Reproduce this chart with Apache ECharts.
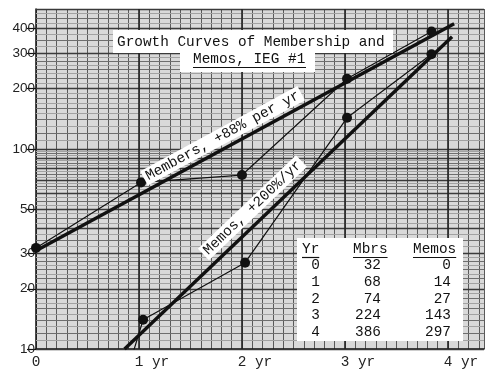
<!DOCTYPE html>
<html><head><meta charset="utf-8">
<script src="https://cdn.jsdelivr.net/npm/echarts@6/dist/echarts.min.js"></script>
<style>html,body{margin:0;padding:0;background:#fff}#c{width:500px;height:382px}</style>
</head><body><div id="c"></div>
<script>
// ---- data ----
const years = [0, 1, 2, 3, 4];
const members = [32, 68, 74, 224, 386];
const memos = [0, 14, 27, 143, 297];
// x positions where the points were actually plotted (yr)
const membersX = [0, 1.02, 2.0, 3.02, 3.84];
const memosX = [0, 1.04, 2.03, 3.02, 3.84];
// memos at yr 0 is 0 (off a log scale); the hand-drawn line heads below the axis toward it
const memosLead = [0.88, 7.5];
// fitted growth lines (end points)
const membersFit = [[0, 31], [4.06, 422]];
const memosFit = [[0.86, 10], [4.04, 363]];
const yTickLabels = [10, 20, 30, 50, 100, 200, 300, 400];
const xTickLabels = [0, 1, 2, 3, 4];
const titleLines = ['Growth Curves of Membership and', 'Memos, IEG #1'];
const membersLabel = 'Members, +88% per yr';
const memosLabel = 'Memos, +200%/yr';
const tableHeader = ['Yr', 'Mbrs', 'Memos'];
// log graph paper rulings
const paperMajor = [10,20,30,40,50,60,70,80,90,100,200,300,400,500];
const paperMinor = [12,14,16,18,22.5,25,27.5,35,45,55,65,75,85,95,120,140,160,180,225,250,275,350,450];
const paperFine = [11,13,15,17,19,21.25,23.75,26.25,28.75,32.5,37.5,42.5,47.5,52.5,57.5,62.5,67.5,72.5,77.5,82.5,87.5,92.5,97.5,
  110,130,150,170,190,212.5,237.5,262.5,287.5,325,375,425,475];

const MONO = '"Liberation Mono", "DejaVu Sans Mono", monospace';
const ink = '#111';

const chart = echarts.init(document.getElementById('c'), null, {renderer: 'canvas'});

function hLines(vals) { return vals.map(v => ({yAxis: v})); }
function vLines(vals) { return vals.map(v => ({xAxis: v})); }
function ruling(vals, color, width, vertical) {
  return { type: 'line', data: [], z: 1, silent: true,
    markLine: {z: 1, silent: true, symbol: ['none', 'none'], label: {show: false}, animation: false,
      lineStyle: {color: color, width: width, type: 'solid'}, data: vertical ? vLines(vals) : hLines(vals)} };
}

const option = {
  animation: false,
  backgroundColor: '#fff',
  grid: {left: 36, right: 16, top: 9, bottom: 33, show: true, backgroundColor: '#d9d9d9', borderWidth: 0},
  xAxis: {
    type: 'value', min: 0, max: 4.35, interval: 0.1,
    axisLine: {show: true, lineStyle: {color: ink, width: 1.5}},
    axisTick: {show: false},
    splitLine: {show: true, lineStyle: {color: '#5a5a5a', width: 1}},
    axisLabel: {
      customValues: xTickLabels,
      fontFamily: MONO, fontSize: 14.4, color: '#222', margin: 6,
      formatter: v => (v === 0 ? '0' : '   ' + v + ' yr')
    }
  },
  yAxis: {
    type: 'log', logBase: 10, min: 10, max: 500,
    axisLine: {show: true, lineStyle: {color: ink, width: 1.5}},
    axisTick: {show: true, customValues: yTickLabels, length: 9, lineStyle: {color: ink, width: 1.2}},
    splitLine: {show: false},
    axisLabel: {customValues: yTickLabels, fontFamily: '"Liberation Sans", Arial, sans-serif', fontSize: 13.5, color: '#222', margin: 1}
  },
  series: [
    ruling(paperFine, '#a2a2a2', 1, false),
    ruling(paperMinor, '#6e6e6e', 1, false),
    ruling(paperMajor, '#3a3a3a', 1.3, false),
    ruling(years.slice(1), '#222', 1.6, true),
    { name: 'Members fit', type: 'line', z: 6, symbol: 'none', silent: true,
      lineStyle: {color: ink, width: 3.4}, data: membersFit },
    { name: 'Memos fit', type: 'line', z: 6, symbol: 'none', silent: true,
      lineStyle: {color: ink, width: 3.4}, data: memosFit },
    { name: 'Members', type: 'line', z: 7, symbol: 'circle', symbolSize: 10,
      itemStyle: {color: ink}, lineStyle: {color: ink, width: 1.2},
      data: membersX.map((x, i) => [x, members[i]]) },
    { name: 'Memos', type: 'line', z: 7, symbol: 'circle', symbolSize: 10, clip: true,
      itemStyle: {color: ink}, lineStyle: {color: ink, width: 1.2},
      data: [{value: memosLead, symbol: 'none'}].concat(
        memosX.slice(1).map((x, i) => [x, memos[i + 1]])) }
  ]
};
chart.setOption(option);

// ---- annotations placed through the chart's own scales ----
function px(p) { return chart.convertToPixel({gridIndex: 0}, p); }
function lineLabel(fit, t, off, text) {
  const a = px(fit[0]), b = px(fit[1]);
  const ang = Math.atan2(-(b[1] - a[1]), b[0] - a[0]);
  const cx = a[0] + (b[0] - a[0]) * t, cy = a[1] + (b[1] - a[1]) * t;
  return {
    type: 'text', z: 100, rotation: ang,
    x: cx - off * Math.sin(ang), y: cy - off * Math.cos(ang),
    style: {text: text, fontFamily: MONO, fontSize: 14.4, fill: ink,
      align: 'center', verticalAlign: 'middle', backgroundColor: '#fff', padding: [2, 3, 0, 3]}
  };
}

const g = [];
// title box
g.push({type: 'rect', z: 90, shape: {x: 113, y: 30, width: 280, height: 23}, style: {fill: '#fff'}});
g.push({type: 'rect', z: 90, shape: {x: 180, y: 50, width: 135, height: 22}, style: {fill: '#fff'}});
g.push({type: 'text', z: 100, x: 117, y: 42, style: {text: titleLines[0], fontFamily: MONO, fontSize: 14.4, fill: ink, align: 'left', verticalAlign: 'middle'}});
g.push({type: 'text', z: 100, x: 193, y: 59, style: {text: titleLines[1], fontFamily: MONO, fontSize: 14.4, fill: ink, align: 'left', verticalAlign: 'middle'}});
g.push({type: 'line', z: 100, shape: {x1: 193, y1: 67.5, x2: 306, y2: 67.5}, style: {stroke: ink, lineWidth: 1.2}});

// rotated labels on the fit lines
g.push(lineLabel(membersFit, 0.46, 12, membersLabel));
g.push(lineLabel(memosFit, 0.42, 14, memosLabel));

// data table
g.push({type: 'rect', z: 90, shape: {x: 297, y: 238, width: 166, height: 103}, style: {fill: '#fff'}});
const colRight = [320, 381, 451];
const hdrLeft = [302, 353, 413];
tableHeader.forEach((h, i) => {
  g.push({type: 'text', z: 100, x: hdrLeft[i], y: 249, style: {text: h, fontFamily: MONO, fontSize: 14.4, fill: ink, align: 'left', verticalAlign: 'middle'}});
  g.push({type: 'line', z: 100, shape: {x1: hdrLeft[i], y1: 257.5, x2: hdrLeft[i] + h.length * 8.64, y2: 257.5}, style: {stroke: ink, lineWidth: 1.2}});
});
years.forEach((yr, r) => {
  const y = 265.5 + r * 16.7;
  [yr, members[r], memos[r]].forEach((v, c) => {
    g.push({type: 'text', z: 100, x: colRight[c], y: y, style: {text: String(v), fontFamily: MONO, fontSize: 14.4, fill: ink, align: 'right', verticalAlign: 'middle'}});
  });
});

chart.setOption({graphic: {elements: g}});
</script>
</body></html>
